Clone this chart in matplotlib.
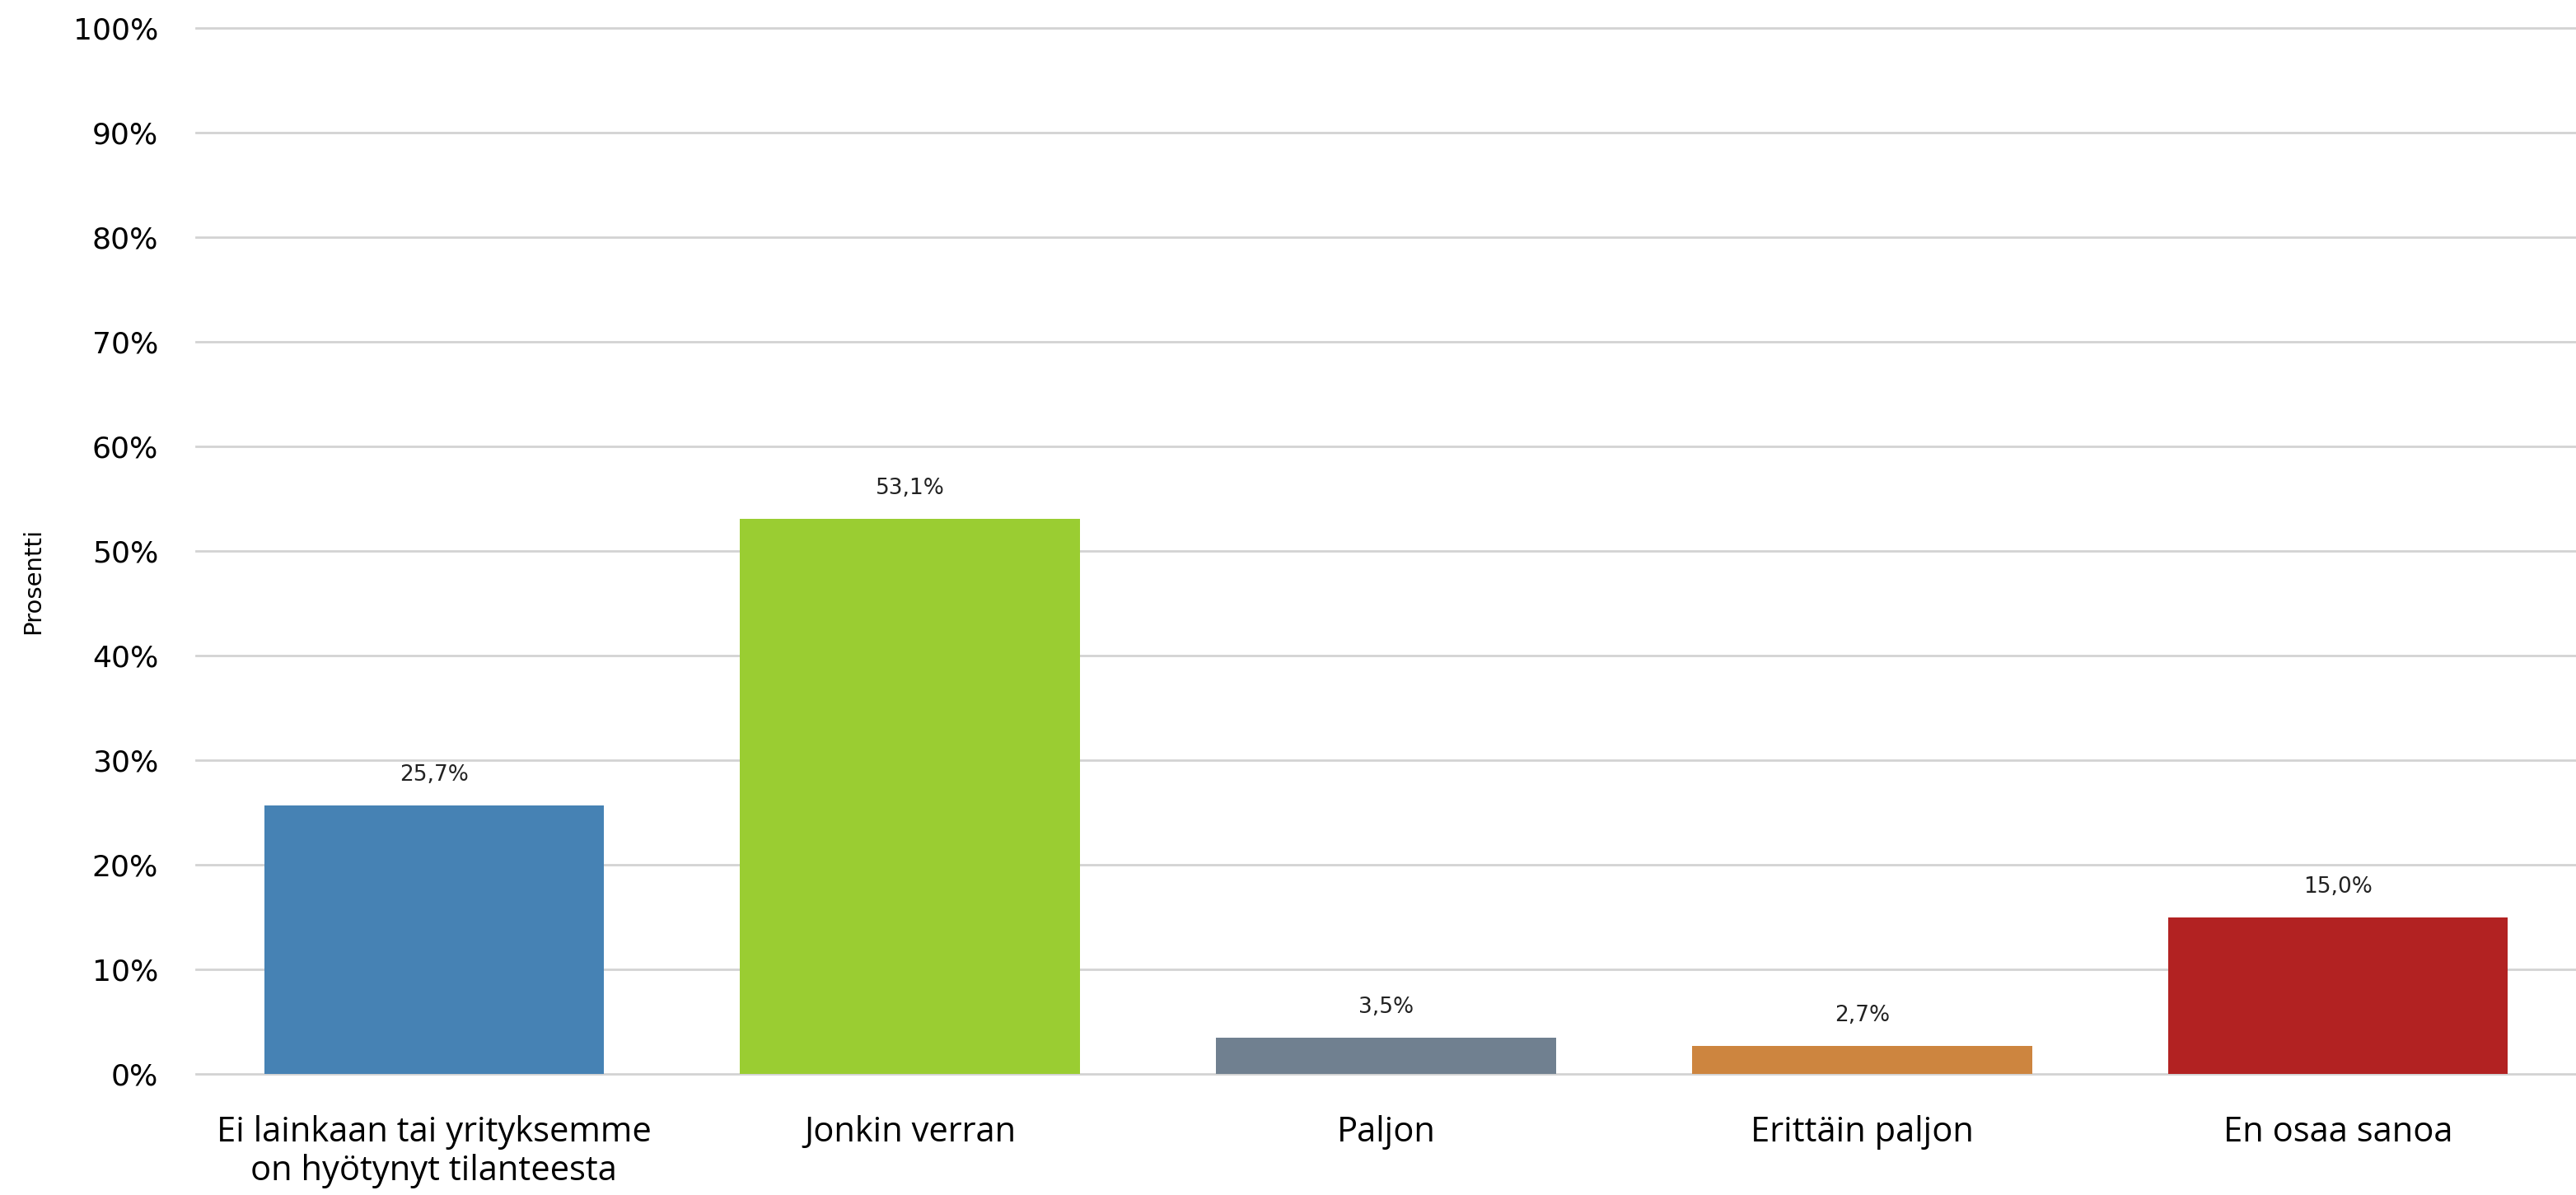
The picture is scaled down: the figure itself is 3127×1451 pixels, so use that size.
import matplotlib.pyplot as plt
from matplotlib import font_manager

categories = ["Ei lainkaan tai yrityksemme\non hyötynyt tilanteesta",
              "Jonkin verran", "Paljon", "Erittäin paljon", "En osaa sanoa"]
values = [25.7, 53.1, 3.5, 2.7, 15.0]
colors = ["#4682B4", "#9ACD32", "#708090", "#CD853F", "#B22222"]
yticks = list(range(0, 101, 10))

names = {f.name for f in font_manager.fontManager.ttflist}
label_font = "Liberation Sans Narrow" if "Liberation Sans Narrow" in names else "Open Sans"

fig = plt.figure(figsize=(31.27, 14.51), dpi=100)
ax = fig.add_axes([238 / 3127, 1 - 1304 / 1451, 1 - 238 / 3127, (1304 - 34) / 1451])

x = range(len(categories))
bars = ax.bar(x, values, width=0.714, color=colors, zorder=3)

for b, v in zip(bars, values):
    ax.annotate(f"{v:.1f}%".replace(".", ","), (b.get_x() + b.get_width() / 2, v),
                xytext=(0, 17), textcoords="offset points", ha="center", va="bottom",
                fontsize=19, family="DejaVu Sans", color="#222222")

ax.set_xlim(-0.5, 4.5)
ax.set_ylim(0, 100)
ax.set_yticks(yticks)
ax.set_yticklabels([f"{t}%" for t in yticks], fontsize=26, family="DejaVu Sans")
ax.set_xticks(list(x))
ax.set_xticklabels(categories, fontsize=30, family=label_font, linespacing=1.15)
ax.tick_params(axis="both", length=0)
ax.tick_params(axis="y", pad=33)
ax.tick_params(axis="x", pad=36)
ax.grid(axis="y", color="#d3d3d3", linewidth=2, zorder=0)
# keep the 0% and 100% lines at full width
for gl in ax.get_ygridlines():
    gl.set_clip_on(False)
for s in ax.spines.values():
    s.set_visible(False)

fig.text(40 / 3127, 1 - 705 / 1451, "Prosentti", rotation=90, ha="center", va="center",
         fontsize=21, family="DejaVu Sans")

fig.savefig("out.png", dpi=100)
